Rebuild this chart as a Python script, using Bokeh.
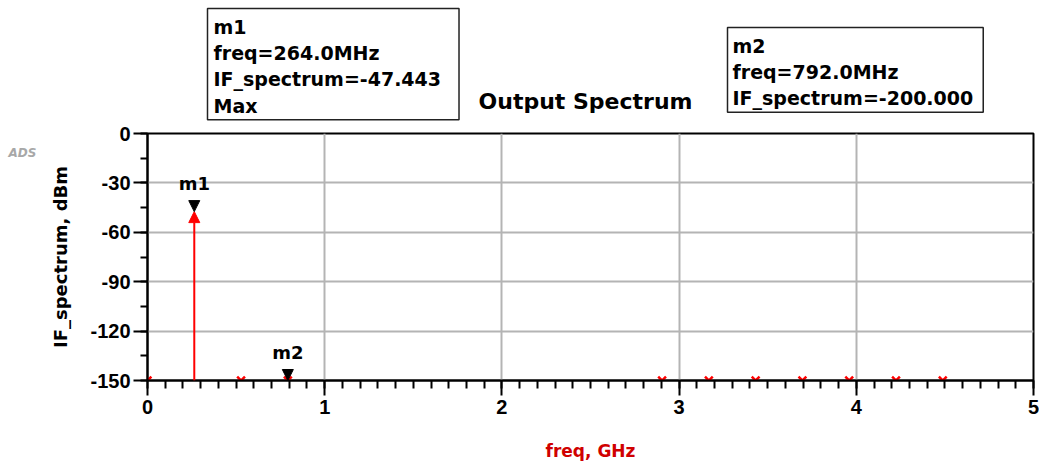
import numpy as np
from bokeh.plotting import figure
from bokeh.layouts import column, row
from bokeh.models import (ColumnDataSource, Range1d, FixedTicker, Label, Arrow, NormalHead)
from bokeh.core.properties import value
from bokeh.embed import file_html
from bokeh.resources import INLINE

# ---------------- data ----------------
freq_ghz = [0.0, 0.264, 0.528, 0.792, 2.904, 3.168, 3.432, 3.696, 3.960, 4.224, 4.488]
if_spectrum_dbm = [-200.0, -47.443, -200.0, -200.0, -200.0, -200.0, -200.0, -200.0, -200.0, -200.0, -200.0]
marker_names = ["m1", "m2"]
marker_freq_ghz = [0.264, 0.792]
marker_value_dbm = [-47.443, -200.0]
x_ticks = [0, 1, 2, 3, 4, 5]
y_ticks = [0, -30, -60, -90, -120, -150]
title_text = "Output Spectrum"
m1_text = "m1\nfreq=264.0MHz\nIF_spectrum=-47.443\nMax"
m2_text = "m2\nfreq=792.0MHz\nIF_spectrum=-200.000"

X_MIN, X_MAX = 0, 5
Y_MIN, Y_MAX = -150, 0

BOLD_FONT = "DejaVu Sans"
TICK_FONT = "Liberation Sans"

f = np.array(freq_ghz)
v = np.array(if_spectrum_dbm)
on = v >= Y_MIN
off = ~on

W, H = 1039, 465
TOP_H = 122          # header strip (title + marker readouts)
ADS_W = 40           # left strip holding the "ADS" tag
MAIN_W = W - ADS_W
MAIN_H = H - TOP_H


def blank(width, height):
    fig = figure(width=width, height=height, x_range=Range1d(0, width), y_range=Range1d(height, 0),
                 output_backend="svg", toolbar_location=None, title=None,
                 x_axis_location=None, y_axis_location=None,
                 min_border_left=0, min_border_right=0, min_border_top=0, min_border_bottom=0)
    fig.xgrid.visible = False
    fig.ygrid.visible = False
    fig.outline_line_color = None
    fig.background_fill_color = "white"
    fig.border_fill_color = "white"
    return fig


# ---------------- header strip ----------------
top = blank(W, TOP_H)
top.add_layout(Label(x=585, y=101, text=title_text, text_align="center", text_baseline="alphabetic",
                     text_font=BOLD_FONT, text_font_style="bold", text_font_size="22px",
                     text_color="black"))
box_kw = dict(text_align="left", text_baseline="top",
              text_font=BOLD_FONT, text_font_style="bold", text_font_size="19px",
              text_color="black", text_line_height=1.2,
              border_line_color="#222222", border_line_width=1.5,
              background_fill_color="white")
top.add_layout(Label(x=207, y=8, text=m1_text, padding=(6, 18, 7, 3), **box_kw))
top.add_layout(Label(x=727, y=27, text=m2_text, padding=(5, 10, 7, 3), **box_kw))

# ---------------- left strip with ADS tag ----------------
ads = blank(ADS_W, MAIN_H)
ads.add_layout(Label(x=8, y=140 - TOP_H, text="ADS", text_align="left", text_baseline="top",
                     text_font=BOLD_FONT, text_font_style="bold italic",
                     text_font_size="12px", text_color="#a8a8a8"))

# ---------------- main plot ----------------
FL, FR, FT, FB = 147 - ADS_W, 1033 - ADS_W, 133 - TOP_H, 380 - TOP_H

p = figure(width=MAIN_W, height=MAIN_H, title=None,
           x_range=Range1d(X_MIN, X_MAX), y_range=Range1d(Y_MIN, Y_MAX),
           output_backend="svg", toolbar_location=None,
           min_border_left=FL, min_border_right=MAIN_W - FR,
           min_border_top=FT, min_border_bottom=MAIN_H - FB)
p.background_fill_color = "white"
p.border_fill_color = "white"
p.outline_line_color = "black"
p.outline_line_width = 2
p.outline_line_alpha = 1

for ax in (p.xaxis[0], p.yaxis[0]):
    ax.axis_line_width = 2
    ax.axis_line_color = "black"
    ax.major_tick_line_width = 2
    ax.minor_tick_line_width = 2
    ax.major_tick_line_color = "black"
    ax.minor_tick_line_color = "black"
    ax.major_tick_in = 0
    ax.minor_tick_in = 0
    ax.major_label_text_font = TICK_FONT
    ax.major_label_text_font_style = "bold"
    ax.major_label_text_font_size = "20px"
    ax.major_label_text_color = "black"
    ax.axis_label_text_font = BOLD_FONT
    ax.axis_label_text_font_style = "bold"

p.xaxis.ticker = FixedTicker(ticks=x_ticks, minor_ticks=list(np.round(np.arange(X_MIN, X_MAX + 0.01, 0.1), 2)))
p.yaxis.ticker = FixedTicker(ticks=y_ticks, minor_ticks=list(np.arange(Y_MIN, Y_MAX + 1, 15)))
p.xaxis.major_label_overrides = {t: str(t) for t in x_ticks}
p.yaxis.major_label_overrides = {t: str(t) for t in y_ticks}
p.xaxis.major_tick_out = 15
p.xaxis.minor_tick_out = 8
p.yaxis.major_tick_out = 14
p.yaxis.minor_tick_out = 7
p.xaxis.major_label_standoff = 4
p.yaxis.major_label_standoff = 3

p.xaxis.axis_label = "freq, GHz"
p.xaxis.axis_label_text_color = "#d00000"
p.xaxis.axis_label_text_font_size = "17px"
p.xaxis.axis_label_standoff = 24
p.yaxis.axis_label = "IF_spectrum, dBm"
p.yaxis.axis_label_text_color = "black"
p.yaxis.axis_label_text_font_size = "18px"
p.yaxis.axis_label_standoff = 16

p.xgrid.ticker = FixedTicker(ticks=x_ticks)
p.ygrid.ticker = FixedTicker(ticks=y_ticks)
for g in (p.xgrid[0], p.ygrid[0]):
    g.grid_line_color = "#b4b4b4"
    g.grid_line_width = 2

# spectral lines within range: red arrows from bottom up to value
line_src = ColumnDataSource(dict(x0=f[on], y0=np.full(on.sum(), Y_MIN), x1=f[on], y1=v[on]))
p.add_layout(Arrow(source=line_src, x_start="x0", y_start="y0", x_end="x1", y_end="y1",
                   line_color="red", line_width=2,
                   end=NormalHead(size=11, fill_color="red", line_color="red", line_width=1)))

# off-scale values: red clipped marks at the bottom of the plot
p.scatter(f[off], np.full(off.sum(), Y_MIN), marker="x", size=11,
          line_color="red", line_width=2.5)

# markers m1, m2 (black downward triangles + names)
mf = np.array(marker_freq_ghz)
mv = np.clip(np.array(marker_value_dbm), Y_MIN, Y_MAX)
mk_src = ColumnDataSource(dict(x0=mf, y0=mv + 1.0, x1=mf, y1=mv))
p.add_layout(Arrow(source=mk_src, x_start="x0", y_start="y0", x_end="x1", y_end="y1",
                   line_color=None,
                   end=NormalHead(size=11, fill_color="black", line_color="black", line_width=1)))
p.text(mf, mv, text=marker_names, text_align="center", text_baseline="alphabetic",
       y_offset=-28, text_font=value(BOLD_FONT), text_font_style="bold",
       text_font_size="18px", text_color="black")

layout = column(top, row(ads, p, spacing=0), spacing=0)
open("out.html", "w").write(file_html(layout, INLINE))
